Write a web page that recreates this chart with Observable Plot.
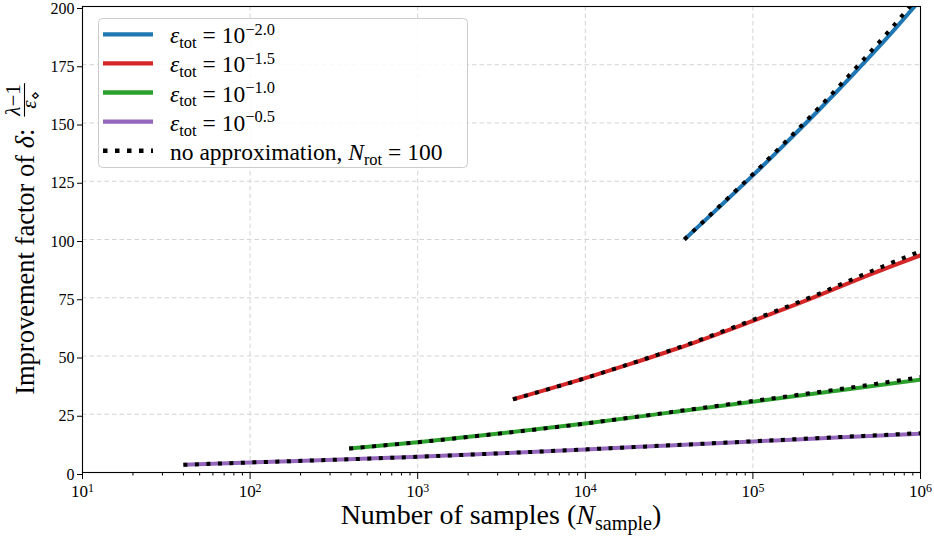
<!DOCTYPE html>
<html><head><meta charset="utf-8">
<script src="https://cdn.jsdelivr.net/npm/d3@7"></script>
<script src="https://cdn.jsdelivr.net/npm/@observablehq/plot@0.6"></script>
<style>
body{margin:0;background:#fff;}
#chart{width:934px;height:539px;overflow:hidden;}
</style></head><body><div id="chart"></div>
<script>
// ---- data ----
const seriesKeys = ["−2.0", "−1.5", "−1.0", "−0.5"];
const seriesColors = ["#1f77b4", "#d62728", "#2ca02c", "#9467bd"];

const nBlue = [39000, 63000, 100000, 158000, 251000, 398000, 631000, 1000000];
const approxBlue = [100, 113.9, 127.5, 141.5, 156, 171, 186.5, 203];
const exactBlue = [100, 114.2, 128, 142.2, 157, 172.5, 188.5, 205.5];

const nRed = [3700, 10000, 18600, 34700, 100000, 214000, 525000, 1000000];
const approxRed = [31.4, 40.5, 46.6, 53.0, 65.1, 74.2, 85.6, 93.2];
const exactRed = [31.4, 40.5, 46.7, 53.2, 65.5, 74.8, 86.8, 95.0];

const nGreen = [390, 1000, 3160, 10000, 31600, 100000, 316000, 1000000];
const approxGreen = [10.3, 13.0, 16.8, 21.0, 25.7, 30.4, 35.1, 39.8];
const exactGreen = [10.3, 13.0, 16.8, 21.0, 25.8, 30.7, 35.6, 40.9];

const nPurple = [40, 100, 316, 1000, 3160, 10000, 31600, 100000, 316000, 1000000];
const approxPurple = [3.3, 4.3, 5.45, 6.75, 8.25, 9.9, 11.6, 13.3, 15.0, 16.6];
const exactPurple = [3.3, 4.3, 5.45, 6.75, 8.25, 9.9, 11.65, 13.4, 15.15, 16.9];

const xMajorTicks = [1e1, 1e2, 1e3, 1e4, 1e5, 1e6];
const xMinorMultipliers = [2, 3, 4, 5, 6, 7, 8, 9];
const yTicks = [0, 25, 50, 75, 100, 125, 150, 175, 200];
const exactLabel = "no approximation, ";

// ---- build tables ----
const seriesList = [
  {key: seriesKeys[0], n: nBlue, approx: approxBlue, exact: exactBlue},
  {key: seriesKeys[1], n: nRed, approx: approxRed, exact: exactRed},
  {key: seriesKeys[2], n: nGreen, approx: approxGreen, exact: exactGreen},
  {key: seriesKeys[3], n: nPurple, approx: approxPurple, exact: exactPurple}
];
const rows = [];
seriesList.forEach(s => s.n.forEach((n, i) => rows.push({series: s.key, n, approx: s.approx[i], exact: s.exact[i]})));
const xMinorTicks = [];
xMajorTicks.slice(0, -1).forEach(d => xMinorMultipliers.forEach(m => xMinorTicks.push(d * m)));

const FONT = "Liberation Serif, DejaVu Serif, serif";
const gridStyle = {stroke: "#d3d3d3", strokeWidth: 1, strokeDasharray: "4.5,3"};

const chart = Plot.plot({
  width: 934, height: 539,
  marginLeft: 82, marginRight: 14, marginTop: 6, marginBottom: 67,
  style: {fontFamily: FONT, fontSize: "17px", background: "white", color: "black"},
  x: {type: "log", domain: [10, 1e6], label: null},
  y: {domain: [0, 200], label: null},
  color: {domain: seriesKeys, range: seriesColors},
  marks: [
    Plot.ruleX(xMajorTicks, gridStyle),
    Plot.ruleY(yTicks, gridStyle),
    Plot.line(rows, {x: "n", y: "approx", z: "series", stroke: "series", strokeWidth: 4,
      strokeLinecap: "butt", curve: "monotone-x", clip: true}),
    Plot.line(rows, {x: "n", y: "exact", z: "series", stroke: "black", strokeWidth: 4,
      strokeLinecap: "butt", strokeDasharray: "4,7.5", curve: "monotone-x", clip: true}),
    Plot.frame({stroke: "black", strokeWidth: 1.1}),
    Plot.axisY({ticks: yTicks, tickSize: 5, tickPadding: 3, fontSize: 16, dy: 2, label: null}),
    Plot.axisX({ticks: xMinorTicks, tickSize: 3.5, tickFormat: () => "", label: null}),
    Plot.axisX({ticks: xMajorTicks, tickSize: 7, tickPadding: 5, fontSize: 17, label: null,
      tickFormat: d => "10^" + Math.round(Math.log10(d))})
  ]
});
document.getElementById("chart").appendChild(chart);

const svg = d3.select(chart.tagName.toLowerCase() === "svg" ? chart : chart.querySelector("svg"));
svg.selectAll("text").style("font-family", FONT);

// superscript exponents on x tick labels
svg.selectAll("text").each(function () {
  const m = /^10\^(-?\d+)$/.exec(this.textContent);
  if (!m) return;
  const el = d3.select(this);
  el.text(null);
  el.append("tspan").text("10");
  el.append("tspan").attr("dy", "-0.42em").attr("font-size", "0.7em").text(m[1]);
});

// x-axis label
const xl = svg.append("text").attr("x", 501).attr("y", 524).attr("text-anchor", "middle")
  .style("font-family", FONT).attr("font-size", 28).attr("fill", "black");
xl.append("tspan").text("Number of samples (");
xl.append("tspan").attr("font-style", "italic").text("N");
xl.append("tspan").attr("font-size", "0.72em").attr("dy", "0.28em").text("sample");
xl.append("tspan").attr("dy", "-0.2em").text(")");

// y-axis label with fraction
const yg = svg.append("g").style("font-family", FONT).attr("fill", "black");
const ym = yg.append("text").attr("font-size", 26.5).attr("text-anchor", "start").attr("x", 0).attr("y", 0);
ym.append("tspan").text("Improvement factor of ");
ym.append("tspan").attr("font-style", "italic").text("δ");
ym.append("tspan").text(":");
const mainLen = ym.node().getComputedTextLength();
const num = yg.append("text").attr("font-size", 21).attr("text-anchor", "middle");
num.append("tspan").attr("font-style", "italic").text("λ");
num.append("tspan").text("−1");
const den = yg.append("text").attr("font-size", 21).attr("text-anchor", "middle");
den.append("tspan").attr("font-style", "italic").text("ε");
den.append("tspan").attr("font-size", "0.7em").attr("dy", "0.25em").text("⋄");
const fracW = Math.max(num.node().getComputedTextLength(), den.node().getComputedTextLength()) + 2;
const gap = 12;
const fx = mainLen + gap;
num.attr("x", fx + fracW / 2).attr("y", -14.5);
den.attr("x", fx + fracW / 2).attr("y", 2);
yg.append("line").attr("x1", fx).attr("x2", fx + fracW).attr("y1", -9.5).attr("y2", -9.5)
  .attr("stroke", "black").attr("stroke-width", 1.1);
const totalW = fx + fracW;
yg.attr("transform", `translate(34, ${239 + totalW / 2}) rotate(-90)`);

// legend
const lg = svg.append("g").style("font-family", FONT).attr("fill", "black").attr("text-anchor", "start");
lg.append("rect").attr("x", 98.5).attr("y", 18.5).attr("width", 369).attr("height", 149).attr("rx", 4)
  .attr("fill", "white").attr("fill-opacity", 0.85).attr("stroke", "#cccccc").attr("stroke-width", 1);
const rowY = [34.3, 63.4, 92.5, 121.6, 150.7];
const LFS = 23.5;
seriesKeys.forEach((k, i) => {
  const y = rowY[i];
  lg.append("line").attr("x1", 103).attr("x2", 153).attr("y1", y).attr("y2", y)
    .attr("stroke", seriesColors[i]).attr("stroke-width", 4.3);
  const t = lg.append("text").attr("x", 170).attr("y", y + 9).attr("font-size", LFS).attr("text-anchor", "start");
  t.append("tspan").attr("font-style", "italic").text("ε");
  t.append("tspan").attr("font-size", "0.7em").attr("dy", "0.3em").text("tot");
  t.append("tspan").attr("dy", "-0.21em").text(" = 10");
  t.append("tspan").attr("font-size", "0.7em").attr("dy", "-0.5em").text(k);
});
{
  const y = rowY[4];
  lg.append("line").attr("x1", 103).attr("x2", 153).attr("y1", y).attr("y2", y)
    .attr("stroke", "black").attr("stroke-width", 4.5).attr("stroke-dasharray", "4.5,7.5");
  const t = lg.append("text").attr("x", 170).attr("y", y + 9).attr("font-size", LFS).attr("text-anchor", "start");
  t.append("tspan").text(exactLabel);
  t.append("tspan").attr("font-style", "italic").text("N");
  t.append("tspan").attr("font-size", "0.7em").attr("dy", "0.3em").text("rot");
  t.append("tspan").attr("dy", "-0.21em").text(" = 100");
}
</script>
</body></html>
